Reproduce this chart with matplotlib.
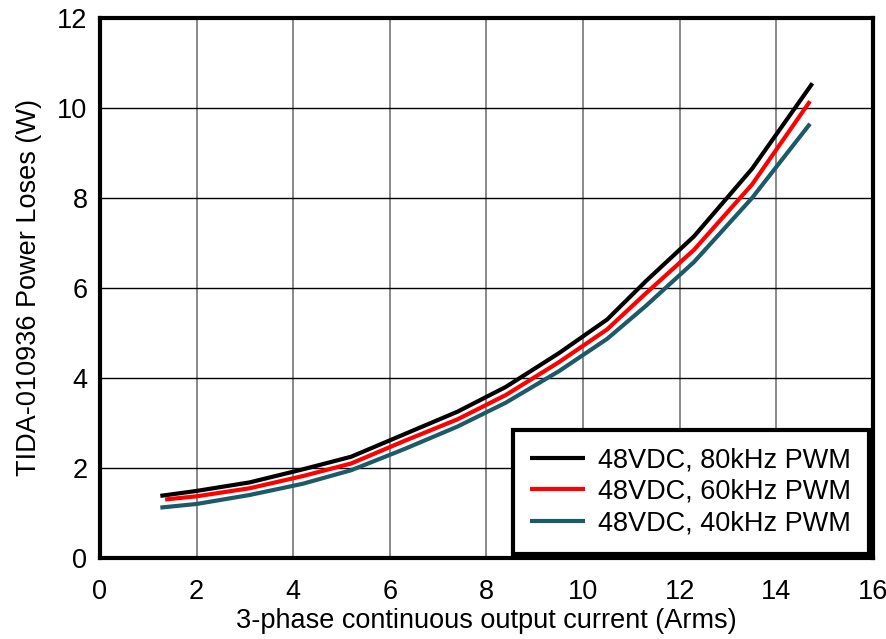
import matplotlib.pyplot as plt

plt.rcParams["font.family"] = ["Liberation Sans", "DejaVu Sans"]

# current (Arms) and losses (W)
current_80k = [1.25, 2.0, 3.1, 4.2, 5.2, 6.3, 7.4, 8.4, 9.5, 10.5, 11.3, 12.3, 13.5, 14.75]
loss_80k = [1.38, 1.49, 1.68, 1.97, 2.25, 2.75, 3.25, 3.80, 4.55, 5.30, 6.15, 7.15, 8.65, 10.55]

current_60k = [1.35, 2.0, 3.1, 4.2, 5.2, 6.3, 7.4, 8.4, 9.5, 10.5, 11.3, 12.3, 13.5, 14.7]
loss_60k = [1.30, 1.37, 1.55, 1.82, 2.10, 2.60, 3.08, 3.62, 4.35, 5.08, 5.88, 6.85, 8.30, 10.15]

current_40k = [1.25, 2.0, 3.1, 4.2, 5.2, 6.3, 7.4, 8.4, 9.5, 10.5, 11.3, 12.3, 13.5, 14.7]
loss_40k = [1.12, 1.20, 1.40, 1.65, 1.95, 2.42, 2.92, 3.45, 4.15, 4.87, 5.60, 6.58, 8.00, 9.65]

labels = ["48VDC, 80kHz PWM", "48VDC, 60kHz PWM", "48VDC, 40kHz PWM"]
colors = ["#000000", "#ff0000", "#1b5a68"]

fig = plt.figure(figsize=(8.87, 6.39), dpi=100)
ax = fig.add_axes([0.1127, 0.1268, 0.8713, 0.845])

for x, y, lab, c in zip([current_80k, current_60k, current_40k],
                        [loss_80k, loss_60k, loss_40k], labels, colors):
    ax.plot(x, y, color=c, lw=3, label=lab, solid_capstyle="butt")

ax.set_xlim(0, 16)
ax.set_ylim(0, 12)
ax.set_xticks(range(0, 17, 2))
ax.set_yticks(range(0, 13, 2))
ax.xaxis.grid(True, color="#808080", lw=1.3)
ax.yaxis.grid(True, color="#000000", lw=1.0)
ax.set_axisbelow(True)
for s in ax.spines.values():
    s.set_linewidth(3)
ax.tick_params(length=0, labelsize=19.5)
ax.tick_params(axis="x", pad=15)
ax.tick_params(axis="y", pad=9)

ax.set_xlabel("3-phase continuous output current (Arms)", fontsize=19.5, labelpad=2)
ax.set_ylabel("TIDA-010936 Power Loses (W)", fontsize=19.5, labelpad=11)

leg = ax.legend(loc="lower right", fontsize=19.5, fancybox=False, framealpha=1,
                edgecolor="black", borderpad=0.65, handlelength=2.0,
                handletextpad=0.5, labelspacing=0.2, borderaxespad=0.15)
leg.get_frame().set_linewidth(3)

fig.savefig("out.png", dpi=100)
